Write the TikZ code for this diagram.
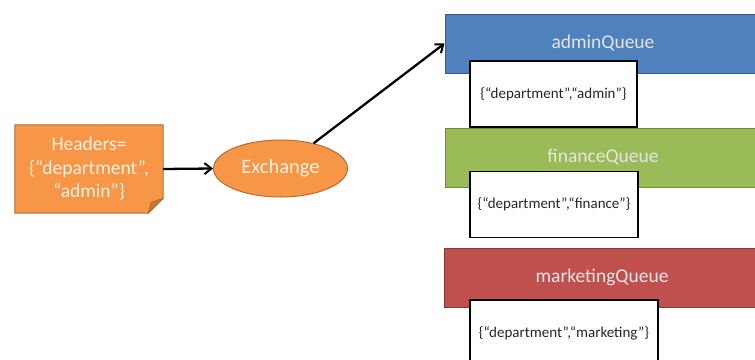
\documentclass[tikz,border=0pt]{standalone}
\usepackage{fontspec}
\setmainfont{Carlito}
\usetikzlibrary{shapes.geometric,arrows.meta}
\definecolor{qblue}{HTML}{4F81BD}
\definecolor{qblueD}{HTML}{385D8A}
\definecolor{qgreen}{HTML}{9BBB59}
\definecolor{qgreenD}{HTML}{71893F}
\definecolor{qred}{HTML}{C0504D}
\definecolor{qredD}{HTML}{8C3836}
\definecolor{qorange}{HTML}{F79646}
\definecolor{qorangeD}{HTML}{B66D31}
\definecolor{qorangeF}{HTML}{C77836}
\tikzset{
  queue/.style={rectangle, line width=1pt, minimum width=316, minimum height=59,
    text=white!90!black, font=\fontsize{19.5}{22}\selectfont, inner sep=0pt},
  keybox/.style={rectangle, draw=black, fill=white, line width=1.6pt,
    minimum height=66, inner sep=0pt, text=black!85,
    font=\fontsize{15}{18}\selectfont},
  conn/.style={line width=2.3pt, -{Straight Barb[length=7pt,width=11pt,line width=2pt]}}
}
\begin{document}
\begin{tikzpicture}[x=1pt,y=-1pt]
\useasboundingbox (0,0) rectangle (755,359);
\clip (0,0) rectangle (755,359);
\fill[white] (0,0) rectangle (755,359);
% queues
\node[queue, fill=qblue, draw=qblueD] (admin) at (603,43.5) {adminQueue};
\node[queue, fill=qgreen, draw=qgreenD] (finance) at (603,157.5) {financeQueue};
\node[queue, fill=qred, draw=qredD] (marketing) at (602,277.5) {marketingQueue};
% key boxes
\node[keybox, minimum width=167] (ka) at (553.5,94) {\{“department”,“admin”\}};
\node[keybox, minimum width=168] (kf) at (554,204.5) {\{“department”,“finance”\}};
\node[keybox, minimum width=188] (km) at (564,333) {\{“department”,“marketing”\}};
% headers (folded corner)
\node[minimum width=148, minimum height=88, inner sep=0pt] (hdr) at (89,169) {};
\fill[qorange, draw=qorangeD, line width=1pt]
  (hdr.north west) -- (hdr.north east) -- ([yshift=15pt]hdr.south east)
  -- ([xshift=-15pt]hdr.south east) -- (hdr.south west) -- cycle;
\fill[qorangeF, draw=qorangeD, line width=0.8pt]
  ([xshift=-15pt]hdr.south east) -- ([yshift=15pt]hdr.south east)
  -- ([xshift=-12pt,yshift=11pt]hdr.south east) -- cycle;
\node[align=center, text=white!88!orange, font=\fontsize{19.5}{23.5}\selectfont] (htxt) at (hdr.center)
  {Headers=\\\{“department”,\\“admin”\}};
% exchange
\node[ellipse, fill=qorange, draw=qorangeD, line width=1pt, minimum width=134,
  minimum height=57, inner sep=0pt, text=white!88!orange,
  font=\fontsize{20.5}{23}\selectfont] (ex) at (280.5,168.5) {Exchange};
% connectors
\draw[conn] (hdr.east) -- (ex.west);
\draw[conn] (ex) -- (admin.west);
\end{tikzpicture}
\end{document}
